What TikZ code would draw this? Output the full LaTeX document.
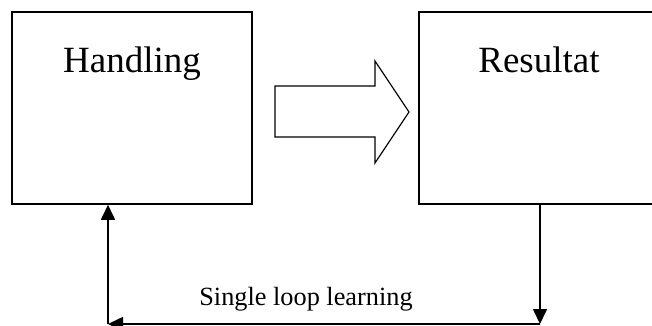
\documentclass[tikz,border=0pt]{standalone}
\usepackage{fontspec}
\setmainfont{Liberation Serif}
\usepackage{tikz}
\usetikzlibrary{arrows.meta,positioning,calc}
\tikzset{
  stagebox/.style={rectangle,draw,line width=1.5pt,minimum width=240pt,
                   minimum height=192pt,inner sep=0pt},
  stagetxt/.style={anchor=base,inner sep=0pt,font=\fontsize{37}{40}\selectfont},
  loopline/.style={line width=1.6pt,-{Triangle[length=15pt,width=14pt]}}
}

\begin{document}
\begin{tikzpicture}[x=1pt,y=-1pt]

  \useasboundingbox (0,0) rectangle (652,326);
  \clip (0,0) rectangle (652,326);

  \node[stagebox] (handling) at (132,108) {};
  \node[stagebox] (resultat) at (539,108) {};

  \node[stagetxt] (handlingtxt) at ([yshift=-61pt]handling.north) {Handling};
  \node[stagetxt] (resultattxt) at ([yshift=-61pt]resultat.north) {Resultat};

  \draw[line width=1.2pt,line join=miter]
    (275,86) -- (375,86) -- (375,61) -- (409,112) -- (375,163)
    -- (375,137) -- (275,137) -- cycle;

  \coordinate (loopR) at (540,324);
  \coordinate (loopL) at (108,324);

  \draw[loopline] (resultat.south -| loopR) -- (loopR);
  \draw[loopline] (loopR) -- (loopL);
  \draw[loopline] (loopL) -- (handling.south -| loopL);

  \node[anchor=base,inner sep=0pt,font=\fontsize{26.3}{30}\selectfont]
       (looplbl) at (306,305) {Single loop learning};

\end{tikzpicture}
\end{document}
